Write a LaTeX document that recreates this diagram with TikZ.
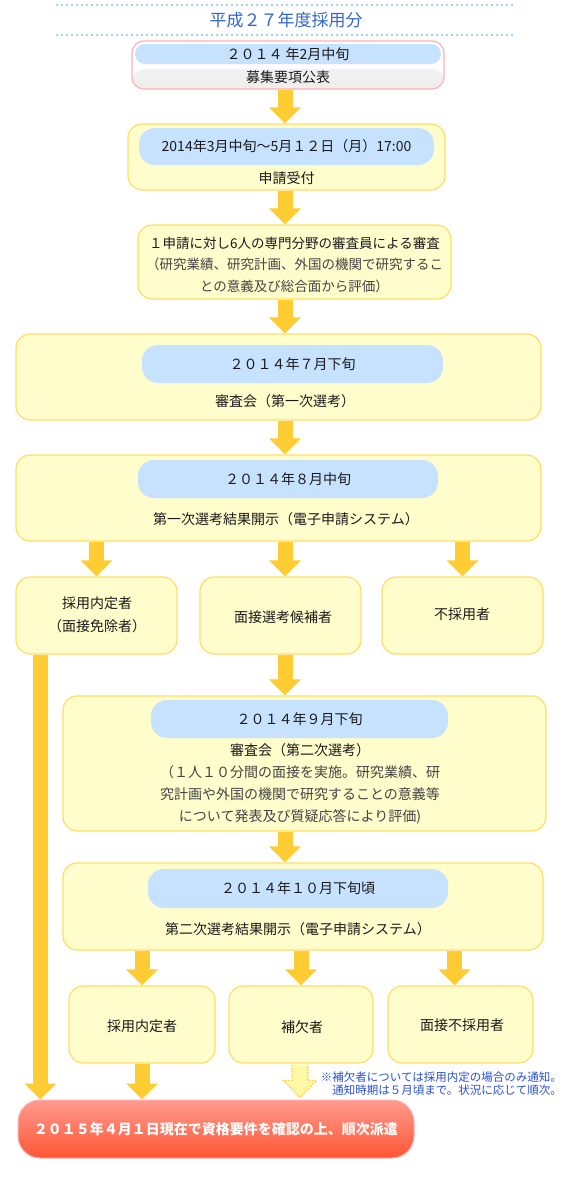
\documentclass[tikz,border=0pt]{standalone}
\usepackage{fontspec}
\setmainfont{Noto Sans CJK JP}
\usetikzlibrary{arrows.meta,calc}
\definecolor{boxfill}{HTML}{FFFDCC}
\definecolor{boxline}{HTML}{FFDD66}
\definecolor{pillblue}{HTML}{C6E2FF}
\definecolor{gold}{HTML}{FFCC33}
\definecolor{ink}{HTML}{1A1A1A}
\definecolor{softink}{HTML}{444444}
\definecolor{titleblue}{HTML}{3366CC}
\definecolor{dotblue}{HTML}{7FC4E0}
\definecolor{noteblue}{HTML}{2850D0}
\definecolor{pinkline}{HTML}{FFB0B0}
\definecolor{redtop}{HTML}{FF998F}
\definecolor{redbottom}{HTML}{FF5633}
\definecolor{softfill}{HTML}{FFF8A6}

\begin{document}
\begin{tikzpicture}[x=1pt,y=-1pt,
  box/.style={draw=boxline,fill=boxfill,line width=1.2pt,rounded corners=14pt,inner sep=0pt},
  pill/.style={fill=pillblue,rounded corners=16pt,inner sep=0pt,text=ink,font=\fontsize{14}{16}\selectfont},
  txt/.style={text=ink,font=\fontsize{14}{22}\selectfont,align=center,inner sep=0pt},
  fatarrow/.style={draw=gold,line width=15pt,-{Triangle[width=31pt,length=16pt]}},
  softarrow/.style={draw=gold,fill=softfill,line width=1.2pt,dash pattern=on 1.5pt off 1.5pt},
  dotrule/.style={dotblue,line width=2.2pt,line cap=round,dash pattern=on 0pt off 5pt}]
\useasboundingbox (0,0) rectangle (564,1200);

\draw[dotrule] (57,5) -- (514,5);
\draw[dotrule] (57,35) -- (514,35);
\node[text=titleblue,font=\fontsize{17}{20}\selectfont] (title) at (286,20) {平成２７年度採用分};

\node[box,draw=pinkline,fill=white,rounded corners=12pt,minimum width=312pt,minimum height=48pt,
  path picture={\shade[top color=black!3,bottom color=black!7] ([yshift=-4pt]path picture bounding box.west) rectangle (path picture bounding box.south east);}]
  (notice) at (288,65) {};
\node[pill,rounded corners=10pt,minimum width=306pt,minimum height=20pt] (noticeDate) at (288,54) {２０１４ 年2月中旬};
\node[txt] (noticeText) at (288,77) {募集要項公表};

\node[box,minimum width=317pt,minimum height=66pt] (apply) at (286.5,157) {};
\node[pill,minimum width=295pt,minimum height=37pt] (applyDate) at (286.5,146.5) {2014年3月中旬〜5月１２日（月）17:00};
\node[txt] (applyText) at (286.5,178) {申請受付};

\node[box,minimum width=313pt,minimum height=74pt] (referee) at (294.5,262) {};
\node[txt,font=\fontsize{13.5}{21.5}\selectfont] (refereeText) at (294.5,264.5)
  {１申請に対し6人の専門分野の審査員による審査\\
   \color{softink}（研究業績、研究計画、外国の機関で研究するこ\\
   \color{softink}との意義及び総合面から評価）};

\node[box,minimum width=525pt,minimum height=86pt] (firstMeeting) at (278.5,377) {};
\node[pill,minimum width=301pt,minimum height=38pt] (firstMeetingDate) at (292.5,364) {２０１４年７月下旬};
\node[txt] (firstMeetingText) at (285,401) {審査会（第一次選考）};

\node[box,minimum width=525pt,minimum height=86pt] (firstResult) at (278.5,498) {};
\node[pill,minimum width=300pt,minimum height=38pt] (firstResultDate) at (288,479) {２０１４年８月中旬};
\node[txt] (firstResultText) at (286,519) {第一次選考結果開示（電子申請システム）};

\node[box,minimum width=161pt,minimum height=77pt] (exempt) at (96.5,615.5) {};
\node[txt,font=\fontsize{14}{23}\selectfont] (exemptText) at (97,614.5) {採用内定者\\（面接免除者）};
\node[box,minimum width=161pt,minimum height=77pt] (interview) at (280.5,615.5) {};
\node[txt] (interviewText) at (283,617) {面接選考候補者};
\node[box,minimum width=161pt,minimum height=77pt] (rejected) at (462.5,615.5) {};
\node[txt] (rejectedText) at (462,614) {不採用者};

\node[box,minimum width=483pt,minimum height=135pt] (secondMeeting) at (304.5,763.5) {};
\node[pill,minimum width=297pt,minimum height=38pt] (secondMeetingDate) at (299.5,719) {２０１４年９月下旬};
\node[txt] (secondMeetingText) at (300,784)
  {審査会（第二次選考）\\
   \color{softink}（１人１０分間の面接を実施。研究業績、研\\
   \color{softink}究計画や外国の機関で研究することの意義等\\
   \color{softink}について発表及び質疑応答により評価)};

\node[box,minimum width=480pt,minimum height=87pt] (secondResult) at (303,906.5) {};
\node[pill,minimum width=300pt,minimum height=39pt] (secondResultDate) at (298,888.5) {２０１４年１０月下旬頃};
\node[txt] (secondResultText) at (298,929) {第二次選考結果開示（電子申請システム）};

\node[box,minimum width=146pt,minimum height=77pt] (offer) at (142,1024.5) {};
\node[txt] (offerText) at (142,1026) {採用内定者};
\node[box,minimum width=144pt,minimum height=77pt] (reserve) at (301,1024.5) {};
\node[txt] (reserveText) at (302,1027) {補欠者};
\node[box,minimum width=145pt,minimum height=77pt] (failed) at (460.5,1024.5) {};
\node[txt] (failedText) at (462,1025) {面接不採用者};

\node[draw=pinkline,line width=1pt,rounded corners=22pt,top color=redtop,bottom color=redbottom,
  minimum width=396pt,minimum height=58pt,inner sep=0pt,text=white,
  font=\fontsize{14}{16}\selectfont\bfseries] (dispatch) at (216,1129)
  {２０１５年４月１日現在で資格要件を確認の上、順次派遣};

\node[anchor=east,align=right,inner sep=0pt,text=noteblue,font=\fontsize{11.5}{13}\selectfont] (note) at (562,1083.5)
  {※補欠者については採用内定の場合のみ通知。\\通知時期は５月頃まで。状況に応じて順次。};

\coordinate (spine) at (285,0);
\coordinate (bypass) at ($(exempt.south west)+(25,0)$);
\coordinate (failedIn) at ($(failed.north)+(-6,0)$);
\coordinate (softTip) at ($(reserve.south |- dispatch.north)+(-1,-2)$);

\draw[fatarrow] (notice.south -| spine) -- (apply.north -| spine);
\draw[fatarrow] (apply.south -| spine) -- (referee.north -| spine);
\draw[fatarrow] (referee.south -| spine) -- (firstMeeting.north -| spine);
\draw[fatarrow] (firstMeeting.south -| spine) -- (firstResult.north -| spine);
\draw[fatarrow] (firstResult.south -| exempt.north) -- (exempt.north);
\draw[fatarrow] (firstResult.south -| spine) -- (interview.north -| spine);
\draw[fatarrow] (firstResult.south -| rejected.north) -- (rejected.north);
\draw[fatarrow] (interview.south -| spine) -- (secondMeeting.north -| spine);
\draw[fatarrow] (secondMeeting.south -| spine) -- (secondResult.north -| spine);
\draw[fatarrow] (secondResult.south -| offer.north) -- (offer.north);
\draw[fatarrow] (secondResult.south -| reserve.north) -- (reserve.north);
\draw[fatarrow] (secondResult.south -| failedIn) -- (failedIn);
\draw[fatarrow] (bypass) -- (bypass |- dispatch.north);
\draw[fatarrow] (offer.south) -- (offer.south |- dispatch.north);
\draw[softarrow] ($(reserve.south -| softTip)+(-8,1)$) -- ($(softTip)+(-8,-17)$) -- ($(softTip)+(-16.5,-17)$)
  -- (softTip) -- ($(softTip)+(16.5,-17)$) -- ($(softTip)+(8,-17)$) -- ($(reserve.south -| softTip)+(8,1)$);
\end{tikzpicture}
\end{document}
